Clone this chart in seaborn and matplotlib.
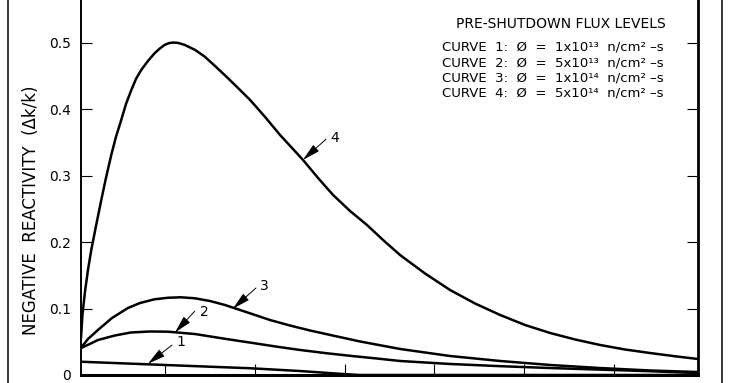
import matplotlib
matplotlib.use("Agg")
import matplotlib.pyplot as plt
from matplotlib.lines import Line2D
import seaborn as sns
import pandas as pd

# ---- data (x in arbitrary time units, y = negative reactivity) ----
c4_x = [0.065, 0.081, 0.109, 0.1425, 0.179, 0.232, 0.291, 0.343, 0.402, 0.454, 0.513, 0.566,
        0.625, 0.677, 0.736, 0.811, 0.885, 0.944, 0.997, 1.045, 1.089, 1.145, 1.219, 1.334,
        1.442, 1.568, 1.702, 1.824, 1.947, 2.114, 2.281, 2.414, 2.537, 2.704, 2.871, 3.060,
        3.249, 3.428, 3.617, 3.895, 4.174, 4.452, 4.731, 5.009, 5.287, 5.566, 5.844, 6.122,
        6.401, 6.679, 6.935]
c4_y = [0.0557, 0.0904, 0.125, 0.158, 0.188, 0.2244, 0.2636, 0.2967, 0.3313, 0.3584, 0.384,
        0.408, 0.429, 0.4458, 0.4593, 0.4729, 0.4845, 0.4917, 0.497, 0.4997, 0.5005, 0.500,
        0.497, 0.4895, 0.4794, 0.4639, 0.4468, 0.4307, 0.4142, 0.3886, 0.3614, 0.3419, 0.3238,
        0.2967, 0.2711, 0.247, 0.2259, 0.2033, 0.1807, 0.1529, 0.128, 0.1077, 0.0904, 0.0753,
        0.0633, 0.0535, 0.0452, 0.0384, 0.0331, 0.0282, 0.0241]

c3_x = [0.061, 0.1425, 0.254, 0.410, 0.588, 0.722, 0.885, 1.033, 1.178, 1.334, 1.501, 1.668,
        1.835, 2.002, 2.169, 2.392, 2.615, 2.893, 3.171, 3.617, 4.174, 4.731, 5.287, 5.844,
        6.401, 6.935]
c3_y = [0.0402, 0.0542, 0.0678, 0.0858, 0.1009, 0.1084, 0.114, 0.1163, 0.117, 0.1155, 0.1114,
        0.1054, 0.0979, 0.0904, 0.0828, 0.0745, 0.067, 0.0587, 0.0505, 0.0392, 0.0286, 0.0211,
        0.0151, 0.0105, 0.0068, 0.0045]

c2_x = [0.061, 0.254, 0.443, 0.621, 0.833, 1.033, 1.334, 1.702, 1.958, 2.247, 2.503, 2.804,
        3.082, 3.361, 3.617, 4.174, 4.731, 5.287, 5.844, 6.401, 6.935]
c2_y = [0.0402, 0.0527, 0.0595, 0.064, 0.0655, 0.0652, 0.0617, 0.0538, 0.0486, 0.0426, 0.0377,
        0.0327, 0.0286, 0.0248, 0.0211, 0.0166, 0.0133, 0.0105, 0.0081, 0.0057, 0.003]

c1_x = [0.061, 0.997, 1.958, 2.503, 2.982, 3.171, 6.935]
c1_y = [0.020, 0.0151, 0.0101, 0.006, 0.0015, 0.0, 0.0]

y_ticks = [0, 0.1, 0.2, 0.3, 0.4, 0.5]
y_tick_labels = ["0", "0.1", "0.2", "0.3", "0.4", "0.5"]
x_ticks = [1, 2, 3, 4, 5, 6]

legend_title = "PRE-SHUTDOWN FLUX LEVELS"
legend_lines = [
    "CURVE  1:  Ø  =  1x10¹³  n/cm² –s",
    "CURVE  2:  Ø  =  5x10¹³  n/cm² –s",
    "CURVE  3:  Ø  =  1x10¹⁴  n/cm² –s",
    "CURVE  4:  Ø  =  5x10¹⁴  n/cm² –s",
]
ylabel = "NEGATIVE  REACTIVITY  (Δk/k)"

# curve callouts: label, arrow tip (on curve), arrow tail, label position
callouts = [
    ("4", (2.537, 0.324), (2.793, 0.355), (2.837, 0.357)),
    ("3", (1.757, 0.100), (2.013, 0.131), (2.058, 0.134)),
    ("2", (1.111, 0.064), (1.331, 0.096), (1.388, 0.095)),
    ("1", (0.811, 0.017), (1.078, 0.045), (1.123, 0.050)),
]

# ---- build tidy frame ----
frames = []
for name, xs, ys in [("4", c4_x, c4_y), ("3", c3_x, c3_y), ("2", c2_x, c2_y), ("1", c1_x, c1_y)]:
    frames.append(pd.DataFrame({"x": xs, "y": ys, "curve": name}))
df = pd.concat(frames, ignore_index=True)

sns.set_theme(style="ticks")
plt.rcParams["font.family"] = ["DejaVu Sans"]
plt.rcParams["text.color"] = "black"
plt.rcParams["axes.labelcolor"] = "black"
plt.rcParams["xtick.color"] = "black"
plt.rcParams["ytick.color"] = "black"

W, H = 730, 383
fig = plt.figure(figsize=(W / 100, H / 100), dpi=100)
ax = fig.add_axes([81 / W, 8 / H, 617 / W, (375 + 4) / H])

for name in ["4", "3", "2", "1"]:
    sub = df[df["curve"] == name]
    sns.lineplot(data=sub, x="x", y="y", ax=ax, color="black", linewidth=1.8,
                 sort=False, estimator=None, legend=False)

ax.set_xlim(0.065, 6.935)
ax.set_ylim(0, 0.5706)
ax.set_xticks(x_ticks)
ax.set_xticklabels([])
ax.set_yticks(y_ticks)
ax.set_yticklabels(y_tick_labels, fontsize=10)
ax.tick_params(axis="y", direction="in", length=8, width=0.8, left=True, right=True, pad=7, colors="black")
ax.tick_params(axis="x", direction="in", length=8, width=0.8, bottom=True, top=False)
ax.set_xlabel("")
ax.set_ylabel(ylabel, fontsize=12)
ax.yaxis.set_label_coords((31 - 81) / 617, (375 - 210) / 379)
ax.yaxis.label.set_va("center")
ax.yaxis.label.set_ha("center")

ax.spines["top"].set_visible(False)
ax.spines["left"].set_linewidth(1.4)
ax.spines["bottom"].set_linewidth(2.2)
ax.spines["right"].set_linewidth(2.0)
for s in ax.spines.values():
    s.set_color("black")

for lab, tip, tail, pos in callouts:
    ax.annotate("", xy=tip, xytext=tail,
                arrowprops=dict(arrowstyle="-|>,head_length=0.9,head_width=0.22",
                                color="black", lw=0.7, shrinkA=0, shrinkB=0))
    ax.text(pos[0], pos[1], lab, fontsize=10, ha="left", va="center", color="black")

# legend block
fig.text(561 / W, 1 - 28 / H, legend_title, fontsize=10, ha="center", va="baseline")
for i, line in enumerate(legend_lines):
    fig.text(442 / W, 1 - (51 + 15.3 * i) / H, line, fontsize=9.5, ha="left", va="baseline")

# outer frame lines
fig.add_artist(Line2D([8 / W, 8 / W], [0, 1], transform=fig.transFigure, color="black", lw=1.1))
fig.add_artist(Line2D([722 / W, 722 / W], [0, 1], transform=fig.transFigure, color="black", lw=1.1))

fig.savefig("out.png", dpi=100, facecolor="white")
